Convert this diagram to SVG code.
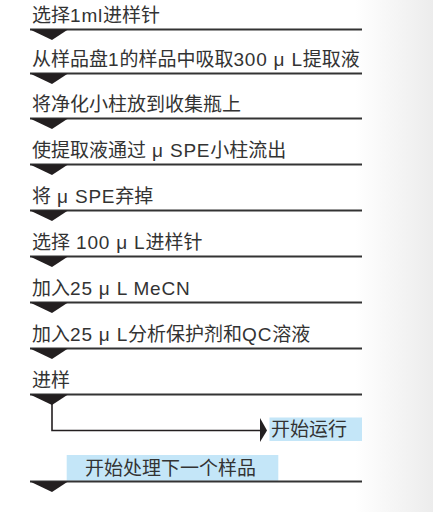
<svg xmlns="http://www.w3.org/2000/svg" width="433" height="512" viewBox="0 0 433 512">
<defs>
<linearGradient id="bg" x1="0" y1="0" x2="1" y2="0">
<stop offset="0" stop-color="#ffffff"/>
<stop offset="1" stop-color="#ececec"/>
</linearGradient>
<style>
.t{font-family:"Liberation Sans","Noto Sans CJK SC",sans-serif;font-size:19px;fill:#333333}
.l{letter-spacing:0.8px}
.ln{stroke:#333333;stroke-width:1.8;fill:none}
.tri{fill:#231f20}
.hl{fill:#c4e6f8}
.cn{stroke:#231f20;stroke-width:1.6;fill:none}
</style>
</defs>
<rect x="0" y="0" width="433" height="512" fill="#ffffff"/>
<rect x="355" y="0" width="78" height="512" fill="url(#bg)"/>
<g id="step1"><text class="t" x="32" y="21.5">选择<tspan class="l">1ml</tspan>进样针</text><line class="ln" x1="30" y1="29.5" x2="362" y2="29.5"/></g>
<g id="step2"><text class="t" x="32" y="65.5">从样品盘<tspan class="l">1</tspan>的样品中吸取<tspan class="l">300 μ L</tspan>提取液</text><line class="ln" x1="30" y1="73.5" x2="362" y2="73.5"/></g>
<g id="step3"><text class="t" x="32" y="110.5">将净化小柱放到收集瓶上</text><line class="ln" x1="30" y1="118.5" x2="362" y2="118.5"/></g>
<g id="step4"><text class="t" x="32" y="156.5">使提取液通过<tspan class="l"> μ SPE</tspan>小柱流出</text><line class="ln" x1="30" y1="164.5" x2="362" y2="164.5"/></g>
<g id="step5"><text class="t" x="32" y="202.5">将<tspan class="l"> μ SPE</tspan>弃掉</text><line class="ln" x1="30" y1="210.5" x2="362" y2="210.5"/></g>
<g id="step6"><text class="t" x="32" y="248.5">选择<tspan class="l"> 100 μ L</tspan>进样针</text><line class="ln" x1="30" y1="256.5" x2="362" y2="256.5"/></g>
<g id="step7"><text class="t" x="32" y="294.5">加入<tspan class="l">25 μ L MeCN</tspan></text><line class="ln" x1="30" y1="302.5" x2="362" y2="302.5"/></g>
<g id="step8"><text class="t" x="32" y="340.5">加入<tspan class="l">25 μ L</tspan>分析保护剂和<tspan class="l">QC</tspan>溶液</text><line class="ln" x1="30" y1="348.5" x2="362" y2="348.5"/></g>
<g id="step9"><text class="t" x="32" y="386.5">进样</text><line class="ln" x1="30" y1="394.5" x2="362" y2="394.5"/></g>
<g id="run"><rect class="hl" x="269.5" y="417.5" width="92.5" height="23.5"/><text class="t" x="271" y="436">开始运行</text></g>
<g id="next"><rect class="hl" x="66.7" y="455" width="211.6" height="25.7"/><text class="t" x="85" y="474.5">开始处理下一个样品</text><line class="ln" x1="30" y1="481.5" x2="362" y2="481.5"/></g>
<g id="connectors">
<polygon class="tri" points="30,29.5 68,29.5 52,40"/>
<polygon class="tri" points="30,73.5 68,73.5 52,84"/>
<polygon class="tri" points="30,118.5 68,118.5 52,129"/>
<polygon class="tri" points="30,164.5 68,164.5 52,175"/>
<polygon class="tri" points="30,210.5 68,210.5 52,221"/>
<polygon class="tri" points="30,256.5 68,256.5 52,267"/>
<polygon class="tri" points="30,302.5 68,302.5 52,313"/>
<polygon class="tri" points="30,348.5 68,348.5 52,359"/>
<polygon class="tri" points="30,394.5 68,394.5 52,405"/>
<polygon class="tri" points="30,481.5 68,481.5 52,492"/>
<polyline class="cn" points="52,404 52,430.5 262,430.5"/>
<polygon class="tri" points="260,418 267,430.5 260,442"/>
</g>
</svg>
